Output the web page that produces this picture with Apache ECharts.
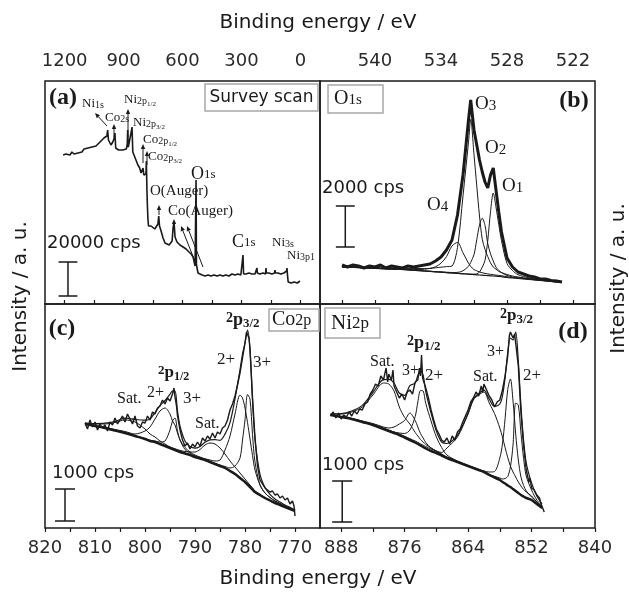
<!DOCTYPE html>
<html>
<head>
<meta charset="utf-8">
<script src="https://cdn.jsdelivr.net/npm/echarts@6/dist/echarts.min.js"></script>
<style>
html, body { margin: 0; padding: 0; background: #fff; }
#chart { width: 629px; height: 594px; }
</style>
</head>
<body>
<div id="chart"></div>
<script>
// ---- axes: ticks and labels (binding energy, eV) ----
var ticksA = [1200, 1050, 900, 750, 600, 450, 300, 150, 0];
var labelsA = [1200, 900, 600, 300, 0];
var ticksB = [543, 540, 537, 534, 531, 528, 525, 522];
var labelsB = [540, 534, 528, 522];
var ticksC = [820, 815, 810, 805, 800, 795, 790, 785, 780, 775, 770];
var labelsC = [820, 810, 800, 790, 780, 770];
var ticksD = [888, 882, 876, 870, 864, 858, 852, 846, 840];
var labelsD = [888, 876, 864, 852, 840];

// ---- (a) survey scan, intensity in a.u. ----
var surveyE = [1208,1203,1198,1193,1188,1183,1173,1163,1152,1142,1132,1122,1112,1101,1091,1081,1071,1061,1051,1040,
  1030,1020,1010,1000,990,985,981,977,973,964,955,947,944,940,935,925,915,905,895,886,
  881,879,876,872,866,861,857,853,847,837,827,818,811,805,801,797,791,786,784,781,
  779,776,773,768,760,751,741,731,725,721,717,709,699,689,679,668,658,653,648,643,
  638,628,613,597,582,567,556,546,541,536,533,531,529,526,521,511,500,485,470,455,
  440,424,409,394,379,364,348,333,318,303,294,292,289,277,262,246,231,223,221,219,
  206,190,177,175,173,160,145,131,129,127,114,99,84,78,70,68,66,62,58,52,
  47,42,37,32,27,22,16,11,6,2];
var surveyI = [149,151,147,150,148,151,149,152,150,152,151,153,152,155,154,156,155,157,156,158,
  160,162,163,166,165,168,174,164,166,159,162,166,171,156,155,154,156,154,156,155,
  160,174,157,155,158,172,177,152,149,144,139,136,131,132,136,129,128,130,143,114,
  100,85,78,76,78,76,75,77,80,88,78,73,66,61,59,59,59,63,76,82,
  67,62,59,57,55,52,50,47,45,38,36,124,40,36,31,29,29,28,29,28,
  29,28,29,28,29,28,30,29,30,29,30,49,30,30,31,30,30,31,36,31,
  30,31,30,36,31,31,30,31,34,31,31,30,31,31,33,36,30,22,21,22,
  21,23,21,22,20,22,21,23,22,23];

// ---- (b) O1s ----
var bE = [543,542,541,540,539,538,537,536,535,534.5,534,533.5,533,532.5,532,531.5,531.3,531,530.75,530.5,
  530.25,530,529.75,529.5,529.25,529,528.75,528.5,528,527.5,527,526,525,524,523];
var bBg = [37,36.6,36.2,35.7,35.2,34.7,34.2,33.4,32.6,32.2,31.8,31.4,31,30.6,30.2,29.8,29.6,29.4,29.2,29,
  28.8,28.6,28.4,28.2,28,27.8,27.6,27.4,26.5,26,25.5,24.5,23.5,22.5,21.5];
var bO1 = [0,0,0,0,0,0,0,0,0,0,0,0,0,0,0.1,0.2,0.3,0.5,1,3,
  8,15,35,64,83,69,52,36,14,7.5,3.8,1.7,1,0.6,0.4];
var bO2 = [0,0,0,0,0,0,0.1,0.1,0.2,0.2,0.3,0.4,0.5,1,3,8,12,20,35,50,
  57,50,32,22,15,9,6,4,2,1,0.8,0.5,0.3,0.2,0.1];
var bO3 = [0.5,0.6,0.7,0.8,1,1.2,1.5,2,3,4,5,6,7,26,78,132,155,120,89,59,
  36,26,19,13,9,7,5,4,3,2,1.5,1,0.7,0.5,0.4];
var bO4 = [0,0,0.2,0.3,0.4,0.6,0.8,1,3,5,9,16,27,31,21,11,8,5,4,3,
  2.5,2,1.7,1.5,1.3,1.1,1,0.9,0.7,0.5,0.4,0.3,0.2,0.1,0];
var bMeasE = [543,542.5,542,541.5,541,540.5,540,539.5,539,538.5,538,537.5,537,536.5,536,535.5,535,
  534.5,534,533.5,533,532.5,532,531.5,531.3,531,530.75,530.5,530.25,530,529.75,529.5,529.25,529,528.75,528.5,528,527.5,527,
  526.5,526,525.5,525,524.5,524,523.5,523];
var bMeasI = [39,37,39,38,36,38,37,39,36,38,37,36,38,37,38,39,40,
  43,47,54,64,89,129,184,204,174,159,144,132,122,116,129,136,114,92,72,46,37,32,
  30,28,27,25,25,23.5,23,22];

// ---- (c) Co2p ----
var cE = [812,810,808,806,804,802,800,799,798,797,796,795,794.5,794,793.5,793,792,791,790,789,
  788,787,786,785,784,783,782,781,780.5,780,779.5,779,778.5,778,777,776,775,774,773,772,771,770];
var cBg = [104,102,100,97.5,95,92,89,87,86,84,82,80,79,78,77,76,74.5,73,71,69.5,
  68,66,64,62,60,57,54,50,48,46,43.5,41,38.5,36,33,30,27.5,25,23,21,19,17];
var cSat1 = [1,2,4,8,13,14,10,7,5,3,2,1,1,0.8,0.7,0.6,0.5,0.4,0.3,0.2,
  0.2,0.1,0.1,0.1,0,0,0,0,0,0,0,0,0,0,0,0,0,0,0,0,0,0];
var c12Co2 = [0,0.5,0.8,1,1.5,2,8,14,23,33,38,34,28,25,18,12,6,3,2,1.5,
  1,0.8,0.6,0.5,0.4,0.3,0.2,0.2,0,0,0,0,0,0,0,0,0,0,0,0,0,0];
var c12Co3 = [0,0,0,0,0.2,0.3,0.5,0.8,1,2,5,18,28,32,20,12,4,2,1,0.6,
  0.4,0.3,0.2,0.1,0,0,0,0,0,0,0,0,0,0,0,0,0,0,0,0,0,0];
var cSat2 = [0,0,0,0,0.1,0.2,0.3,0.3,0.4,0.4,0.5,0.8,1,1.2,1.4,1.6,2,3,5,9,
  15,19,20,18,14,10,7,5,4,3,2.5,2,1.5,1,0.6,0.4,0.2,0.1,0,0,0,0];
var c32Co2 = [0,0,0,0,0,0,0,0,0,0,0,0,0,0,0,0,0,0,0.5,0.8,
  1.2,2,3,6,18,35,60,83,82,74,62,48,34,22,10,5,3,2,1.5,1,0.8,0.6];
var c32Co3 = [0,0,0,0,0,0,0,0,0,0,0,0,0,0,0,0,0,0,0,0,
  0,0,0.5,1,1.5,3,8,20,40,62,90,88,55,30,10,5,3,2,1.5,1,0.8,0.6];
var cMeasE = [812,811.5,811,810.5,810,809.5,809,808.5,808,807.5,807,806.5,806,805.5,805,804.5,804,803.5,803,802.5,
  802,801.5,801,800.5,800,799.5,799,798.5,798,797.5,797,796.5,796,795.5,795,794.5,794.2,794,793.7,793.5,
  793,792.5,792,791.5,791,790.5,790,789.5,789,788.5,788,787.5,787,786.5,786,785.5,785,784.5,784,783.5,
  783,782.5,782,781.5,781,780.5,780,779.7,779.5,779.2,779,778.5,778,777.5,777,776.5,776,775.5,775,774.5,
  774,773.5,773,772.5,772,771.5,771,770.5,770.2,770];
var cMeasI = [105,99,108,101,106,98,104,100,103,97,106,103,110,104,108,112,106,114,109,104,
  112,102,100,106,105,112,108,116,114,120,122,128,124,130,127,134,140,131,122,112,
  98,88,82,85,79,84,81,86,82,90,87,92,89,95,90,96,94,100,102,108,
  118,124,132,143,155,170,185,196,198,190,178,130,90,62,48,44,40,38,36,37,
  33,34,30,32,28,30,24,27,22,12];

// ---- (d) Ni2p ----
var dE = [890,888,886,884,882,880,879,878,877,876,875,874,873.5,873,872.5,872,871,870,869,868,
  866,864,863,862,861,860,859,858,857.5,857,856.5,856,855.5,855,854.5,854,853.5,853,852,851,850];
var dBg = [113,111,109,106,103,99,97,95,93,90.5,88,85.5,84,82.5,81,79.5,77,75,72.5,70,
  66,62,60,58,56,53,50.5,48,46,44.5,42.5,41,39,37,35,33,31.5,30,28,24,20];
var dSat1 = [1,3,7,15,30,46,47,42,28,20,16,10,8,6,5,4,3,2,1.5,1,
  0.5,0.3,0.2,0.2,0.1,0,0,0,0,0,0,0,0,0,0,0,0,0,0,0,0];
var d12Ni3 = [0,0.3,0.6,1,1.5,2,3,6,11,17,27,22,17,12,9,6,3,2,1,0.5,
  0.3,0,0,0,0,0,0,0,0,0,0,0,0,0,0,0,0,0,0,0,0];
var d12Ni2 = [0,0,0.2,0.3,0.5,0.7,0.8,1,2,4,10,26,42,55,56,45,30,16,8,3,
  1,0.5,0.4,0.3,0.2,0,0,0,0,0,0,0,0,0,0,0,0,0,0,0,0];
var dSat2 = [0,0,0.2,0.3,0.5,0.7,0.8,0.9,1,1.2,1.3,1.5,1.6,1.7,1.8,1.9,2,2,3,10,
  25,52,68,75,80,72,64,52,45,36,28,21,17,14,11,9,7,6,4,2,1];
var d32Ni3 = [0,0,0,0,0,0,0,0,0,0,0,0,0,0,0,0,0,0,0,0,
  0,0.3,0.5,0.8,1,3,6,22,38,65,96,108,88,57,33,18,11,7,3,2,1];
var d32Ni2 = [0,0,0,0,0,0,0,0,0,0,0,0,0,0,0,0,0,0,0,0,
  0,0,0,0,0.5,0.8,1.2,2,3,5,9,20,44,88,88,62,38,22,10,4,2];
var dMeasE = [890,889.5,889,888.5,888,887.5,887,886.5,886,885.5,885,884.5,884,883.5,883,882.5,882,881.5,881,880.5,
  880,879.5,879.2,879,878.5,878.2,878,877.5,877,876.5,876,875.5,875,874.5,874,873.5,873.2,873,872.8,872.6,
  872.3,872,871.5,871,870.5,870,869.5,869,868.5,868,867.5,867,866.5,866,865.5,865,864.5,864,863.5,863,
  862.5,862,861.5,861.2,861,860.5,860,859.5,859,858.5,858,857.5,857,856.5,856.2,856,855.8,855.5,855.2,855,
  854.5,854,853.5,853,852.5,852.3,852,851.5,851,850.5,850.2,850,849.6];
var dMeasI = [112,116,110,115,109,113,111,116,112,117,114,119,118,124,126,134,138,144,142,152,
  148,160,146,154,148,158,142,136,130,134,128,136,138,134,146,148,160,152,173,150,
  152,140,130,118,108,99,94,88,86,90,84,92,88,96,99,106,112,118,126,130,
  136,132,142,136,144,138,132,128,121,126,128,138,152,172,192,196,198,190,194,185,
  162,115,82,58,46,50,40,38,33,30,24,26,16];

// ---- scale bars: [energy, bottom, top, half cap width] ----
var barA = [1183, 8, 42, 48];
var barB = [542.7, 57, 98, 0.86];
var barC = [816, 7, 39, 2];
var barD = [887.8, 6, 47, 1.9];

var INK = '#1a1a1a';
var SANS = 'DejaVu Sans';
var SERIF = 'Liberation Serif';

function pairs(xs, ys) {
  return xs.map(function (x, i) { return [x, ys[i]]; });
}
function onBg(xs, bg, comp) {
  return xs.map(function (x, i) { return [x, bg[i] + comp[i]]; });
}
function envelope(xs, bg, comps) {
  return xs.map(function (x, i) {
    var s = bg[i];
    comps.forEach(function (c) { s += c[i]; });
    return [x, s];
  });
}
function line(idx, data, width, smooth) {
  return {
    type: 'line', xAxisIndex: idx, yAxisIndex: idx, data: data,
    symbol: 'none', smooth: smooth || false, silent: true, animation: false,
    lineStyle: { color: INK, width: width }
  };
}
function scaleBar(idx, b) {
  var x = b[0], y0 = b[1], y1 = b[2], hw = b[3];
  return line(idx, [[x - hw, y0], [x + hw, y0], [x, y0], [x, y1], [x - hw, y1], [x + hw, y1]], 1.5);
}
function xAx(idx, pos, min, max, ticks, labels) {
  return {
    type: 'value', gridIndex: idx, position: pos, min: min, max: max, inverse: true,
    axisLine: { show: false }, splitLine: { show: false },
    axisTick: { show: true, customValues: ticks, length: 4, lineStyle: { color: INK, width: 1.2 } },
    axisLabel: { customValues: labels, margin: 11, fontSize: 18, fontFamily: SANS, color: '#2a2a2a',
      formatter: function (v) { return String(v); } }
  };
}
function yAx(idx, max) {
  return { type: 'value', gridIndex: idx, min: 0, max: max, show: false };
}
function frame(left, top, h) {
  return { left: left, top: top, width: 275, height: h, show: true, borderColor: INK, borderWidth: 1.5,
    backgroundColor: 'transparent', outerBoundsMode: 'none', containLabel: false };
}

// ---- annotation helpers ----
var cv = document.createElement('canvas').getContext('2d');
function textW(t, size, weight, fam) {
  cv.font = weight + ' ' + size + 'px "' + fam + '"';
  return cv.measureText(t).width;
}
function txt(x, y, t, size, fam, weight, align, rot) {
  return {
    type: 'text', x: x, y: y, rotation: rot || 0, z: 100,
    style: { text: t, fontSize: size, fontFamily: fam, fontWeight: weight || 'normal', fill: INK,
      align: align || 'left', textAlign: align || 'left', verticalAlign: 'middle', textVerticalAlign: 'middle' }
  };
}
function label(x, y, parts, fam) {
  var out = [];
  fam = fam || SERIF;
  parts.forEach(function (p) {
    var w = p[3] ? 'bold' : 'normal';
    out.push(txt(x, y + (p[2] || 0), p[0], p[1], fam, w));
    x += textW(p[0], p[1], w, fam);
  });
  return out;
}
function box(x, y, w, h) {
  return { type: 'rect', z: 100, shape: { x: x, y: y, width: w, height: h },
    style: { fill: 'none', stroke: '#a8a8a8', lineWidth: 1.5 } };
}
function arrow(x1, y1, x2, y2) {
  var a = Math.atan2(y2 - y1, x2 - x1), L = 5, W = 2.2;
  var bx = x2 - L * Math.cos(a), by = y2 - L * Math.sin(a);
  var nx = -Math.sin(a) * W, ny = Math.cos(a) * W;
  return [
    { type: 'line', z: 100, shape: { x1: x1, y1: y1, x2: bx, y2: by }, style: { stroke: INK, lineWidth: 1 } },
    { type: 'polygon', z: 100, shape: { points: [[x2, y2], [bx + nx, by + ny], [bx - nx, by - ny]] }, style: { fill: INK } }
  ];
}

var g = [];
function add(a) { g = g.concat(a); }

// axis titles
add(txt(318, 23, 'Binding energy / eV', 20, SANS, 'normal', 'center'));
add(txt(318, 579, 'Binding energy / eV', 20, SANS, 'normal', 'center'));
add(txt(20.5, 296.5, 'Intensity / a. u.', 20, SANS, 'normal', 'center', Math.PI / 2));
add(txt(619, 278.5, 'Intensity / a. u.', 20, SANS, 'normal', 'center', Math.PI / 2));

// panel (a)
add(txt(63, 98, '(a)', 24, SERIF, 'bold', 'center'));
add(box(205, 84, 113, 27));
add(txt(261.5, 97.5, 'Survey scan', 17, SANS, 'normal', 'center'));
add(label(82, 104, [['Ni', 13], ['1s', 10, 1]]));
add(label(105, 118, [['Co', 13], ['2s', 10, 1]]));
add(label(124, 100, [['Ni', 13], ['2p', 10, 1], ['1/2', 7, 4]]));
add(label(133, 123, [['Ni', 13], ['2p', 10, 1], ['3/2', 7, 4]]));
add(label(143, 140, [['Co', 13], ['2p', 10, 1], ['1/2', 7, 4]]));
add(label(148, 157, [['Co', 13], ['2p', 10, 1], ['3/2', 7, 4]]));
add(label(191, 174, [['O', 18], ['1s', 13, 1]]));
add(label(150, 191, [['O(Auger)', 15]]));
add(label(168, 211, [['Co(Auger)', 15]]));
add(label(232, 242, [['C', 18], ['1s', 13, 1]]));
add(label(272, 243, [['Ni', 13], ['3s', 10, 1]]));
add(label(287, 256, [['Ni', 13], ['3p1', 10, 1]]));
add(txt(47, 243, '20000 cps', 18, SANS));
add(arrow(107, 126, 95, 113));
add(arrow(114, 138, 114, 124));
add(arrow(128, 137, 128, 109));
add(arrow(143, 163, 143, 144));
add(arrow(147, 165, 147, 151));
add(arrow(159, 215, 159, 205));
add(arrow(174, 227, 174, 219));
add(arrow(196, 264, 181, 226));
add(arrow(203, 267, 187, 226));

// panel (b)
add(box(328, 85, 55, 28));
add(label(334, 99, [['O', 20], ['1s', 15, 1]]));
add(txt(574, 101, '(b)', 24, SERIF, 'bold', 'center'));
add(label(475, 104, [['O', 19], ['3', 15, 2]]));
add(label(485, 148, [['O', 19], ['2', 15, 2]]));
add(label(502, 186, [['O', 19], ['1', 15, 2]]));
add(label(427, 205, [['O', 19], ['4', 15, 2]]));
add(txt(322, 188, '2000 cps', 18, SANS));

// panel (c)
add(txt(62, 329, '(c)', 24, SERIF, 'bold', 'center'));
add(box(269, 309, 50, 22));
add(label(272, 320, [['Co', 20], ['2p', 16, 1]]));
add(label(226, 320, [['2', 14, -2, 1], ['p', 18, 0, 1], ['3/2', 13, 4, 1]]));
add(label(217, 360, [['2+', 17]]));
add(label(253, 363, [['3+', 17]]));
add(label(158, 373, [['2', 13, -2, 1], ['p', 17, 0, 1], ['1/2', 12, 4, 1]]));
add(label(117, 399, [['Sat.', 16]]));
add(label(147, 393, [['2+', 16]]));
add(label(183, 399, [['3+', 17]]));
add(label(195, 424, [['Sat.', 16]]));
add(txt(52, 473, '1000 cps', 18, SANS));

// panel (d)
add(box(325, 308, 55, 30));
add(label(331, 323, [['Ni', 21], ['2p', 17, 1]]));
add(txt(573, 332, '(d)', 24, SERIF, 'bold', 'center'));
add(label(500, 316, [['2', 14, -2, 1], ['p', 17, 0, 1], ['3/2', 13, 4, 1]]));
add(label(407, 343, [['2', 14, -2, 1], ['p', 18, 0, 1], ['1/2', 13, 4, 1]]));
add(label(370, 362, [['Sat.', 16]]));
add(label(402, 371, [['3+', 16]]));
add(label(425, 376, [['2+', 17]]));
add(label(473, 377, [['Sat.', 16]]));
add(label(487, 352, [['3+', 16]]));
add(label(523, 376, [['2+', 17]]));
add(txt(322, 465, '1000 cps', 18, SANS));

var series = [];
// (a)
series.push(line(0, pairs(surveyE, surveyI), 1.6));
series.push(scaleBar(0, barA));
// (b)
series.push(line(1, pairs(bE, bBg), 1.2, 0.3));
[bO1, bO2, bO3, bO4].forEach(function (c) { series.push(line(1, onBg(bE, bBg, c), 1, 0.3)); });
series.push(line(1, pairs(bMeasE, bMeasI), 3));
series.push(scaleBar(1, barB));
// (c)
var cComps = [cSat1, c12Co2, c12Co3, cSat2, c32Co2, c32Co3];
series.push(line(2, pairs(cE, cBg), 2.5, 0.3));
cComps.forEach(function (c) { series.push(line(2, onBg(cE, cBg, c), 1, 0.3)); });
series.push(line(2, envelope(cE, cBg, cComps), 1.2, 0.3));
series.push(line(2, pairs(cMeasE, cMeasI), 1.4));
series.push(scaleBar(2, barC));
// (d)
var dComps = [dSat1, d12Ni3, d12Ni2, dSat2, d32Ni3, d32Ni2];
series.push(line(3, pairs(dE, dBg), 2.5, 0.3));
dComps.forEach(function (c) { series.push(line(3, onBg(dE, dBg, c), 1, 0.3)); });
series.push(line(3, envelope(dE, dBg, dComps), 1.2, 0.3));
series.push(line(3, pairs(dMeasE, dMeasI), 1.4));
series.push(scaleBar(3, barD));

var option = {
  animation: false,
  backgroundColor: '#fff',
  grid: [frame(45, 81, 223), frame(320, 81, 223), frame(45, 304, 224), frame(320, 304, 224)],
  xAxis: [
    xAx(0, 'top', -100, 1300, ticksA, labelsA),
    xAx(1, 'top', 520, 545, ticksB, labelsB),
    xAx(2, 'bottom', 765, 820, ticksC, labelsC),
    xAx(3, 'bottom', 840, 892, ticksD, labelsD)
  ],
  yAxis: [yAx(0, 223), yAx(1, 223), yAx(2, 224), yAx(3, 224)],
  series: series,
  graphic: { elements: g }
};

var chart = echarts.init(document.getElementById('chart'), null, { renderer: 'canvas' });
chart.setOption(option);
</script>
</body>
</html>
